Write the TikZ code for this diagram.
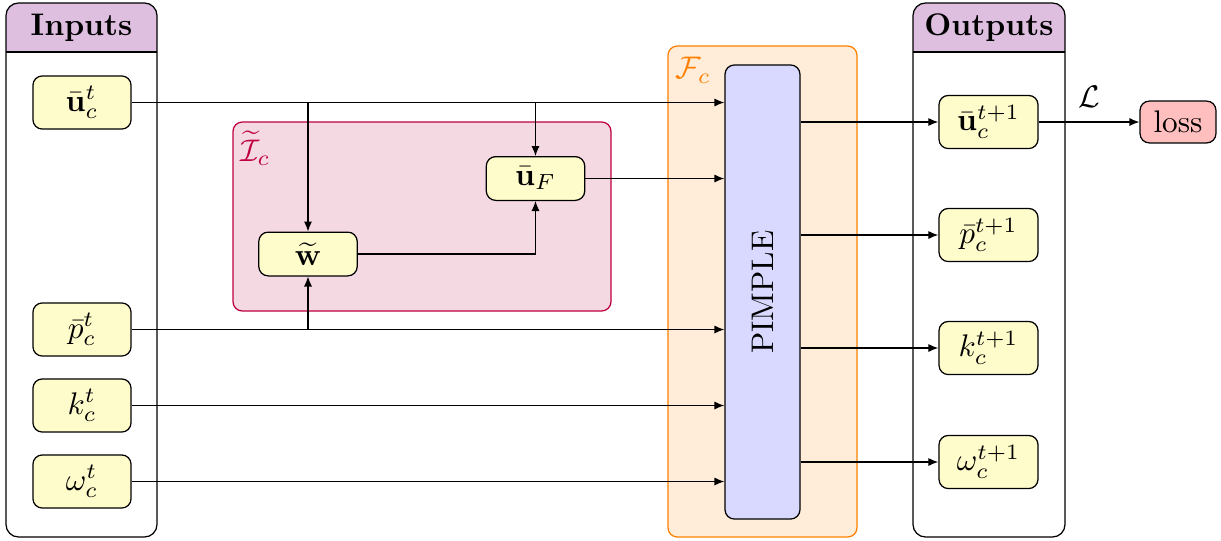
\documentclass[tikz,border=0pt]{standalone}
\usepackage{amsmath}
\usetikzlibrary{arrows.meta}
\begin{document}
\begin{tikzpicture}[x=0.32pt,y=-0.32pt,
  var/.style={draw, rounded corners=3pt, fill=yellow!20, inner sep=0pt},
  invar/.style={var, minimum width=31.4pt, minimum height=17pt},
  outvar/.style={var, minimum width=31.7pt, minimum height=17pt},
  midvar/.style={var, minimum width=31.5pt, minimum height=14pt},
  panel/.style={draw, rounded corners=4pt},
  arr/.style={-{Latex[length=3.2pt,width=2.6pt]}}
]
\useasboundingbox (0,0) rectangle (1221,540);
% Inputs / Outputs panels
\fill[violet!25, rounded corners=4pt] (6,3) rectangle (157,52);
\fill[violet!25] (6,30) rectangle (157,52);
\draw[panel] (6,3) rectangle (157,537);
\draw (6,52) -- (157,52);
\node[font=\bfseries] (inhdr) at (81.5,27.5) {Inputs};
\fill[violet!25, rounded corners=4pt] (913,3) rectangle (1065,52);
\fill[violet!25] (913,30) rectangle (1065,52);
\draw[panel] (913,3) rectangle (1065,537);
\draw (913,52) -- (1065,52);
\node[font=\bfseries] (outhdr) at (989,27.5) {Outputs};
% interpolation box
\draw[purple, fill=purple!15, rounded corners=3pt] (233,122) rectangle (611,311);
\node[purple, anchor=north west, inner sep=0pt] (ilab) at (240,130) {$\widetilde{\mathcal{I}}_c$};
% F box
\draw[orange, fill=orange!15, rounded corners=3pt] (668,46) rectangle (857,537);
\node[orange, anchor=north west, inner sep=0pt] (flab) at (675,57) {$\mathcal{F}_c$};
% PIMPLE
\node[draw, rounded corners=3pt, fill=blue!15, minimum width=24pt, minimum height=145.3pt, inner sep=0pt] (pim) at (762.5,292) {};
\node[rotate=90] (pimtxt) at (762.5,292) {PIMPLE};
% input nodes
\node[invar] (uin) at (82,102.5) {$\bar{\mathbf{u}}_c^t$};
\node[invar] (pin) at (82,329.5) {$\bar{p}_c^t$};
\node[invar] (kin) at (82,405.5) {$k_c^t$};
\node[invar] (win) at (82,481.5) {$\omega_c^t$};
% inner nodes
\node[midvar] (wt) at (308,254) {$\widetilde{\mathbf{w}}$};
\node[midvar] (uf) at (535.5,178.5) {$\bar{\mathbf{u}}_F$};
% output nodes
\node[outvar] (uout) at (988.5,122) {$\bar{\mathbf{u}}_c^{t+1}$};
\node[outvar] (pout) at (988.5,235) {$\bar{p}_c^{t+1}$};
\node[outvar] (kout) at (988.5,348) {$k_c^{t+1}$};
\node[outvar] (wout) at (988.5,462) {$\omega_c^{t+1}$};
% loss
\node[var, fill=red!25, minimum width=24.3pt, minimum height=13.4pt] (loss) at (1178,122) {loss};
% connectors
\draw[arr] (uin.east) -- (uin.east -| pim.west);
\draw[arr] (uin.east -| wt.north) -- (wt.north);
\draw[arr] (uin.east -| uf.north) -- (uf.north);
\draw[arr] (uf.east) -- (uf.east -| pim.west);
\draw[arr] (wt.east) -| (uf.south);
\draw[arr] (pin.east) -- (pin.east -| pim.west);
\draw[arr] (pin.east -| wt.south) -- (wt.south);
\draw[arr] (kin.east) -- (kin.east -| pim.west);
\draw[arr] (win.east) -- (win.east -| pim.west);
\draw[arr] (pim.east |- uout.west) -- (uout.west);
\draw[arr] (pim.east |- pout.west) -- (pout.west);
\draw[arr] (pim.east |- kout.west) -- (kout.west);
\draw[arr] (pim.east |- wout.west) -- (wout.west);
\draw[arr] (uout.east) -- node[above=1pt] (llab) {$\mathcal{L}$} (loss.west);
\end{tikzpicture}
\end{document}
